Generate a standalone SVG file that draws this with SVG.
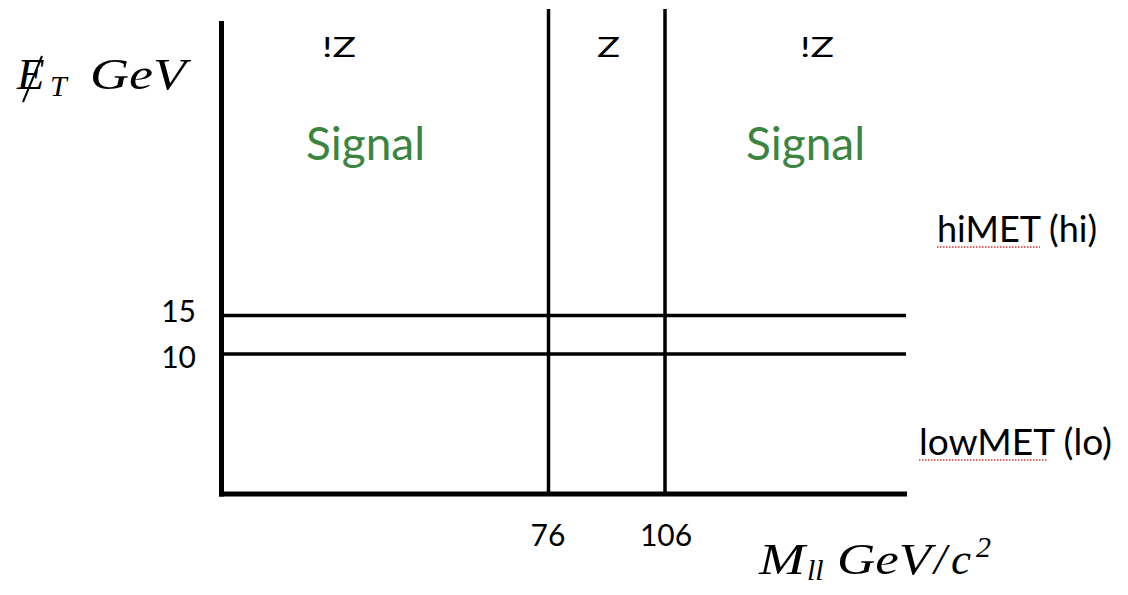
<svg xmlns="http://www.w3.org/2000/svg" width="1128" height="595" viewBox="0 0 1128 595">
<style>
.ax{stroke:#000;stroke-width:5;fill:none;stroke-linecap:butt}
.ln{stroke:#000;stroke-width:3.5;fill:none}
.lab{font-family:Lato,"Open Sans",sans-serif;fill:#000}
.z{font-size:26px}
.met{font-size:36px}
.num{font-size:30px}
.sig{font-family:Lato,"Open Sans",sans-serif;fill:#3b8540;font-size:46px;text-anchor:middle}
.m{font-family:"Liberation Serif",serif;font-style:italic;fill:#000}
.big{font-size:45px}
.sub{font-size:30px}
.sp{stroke:#e03030;stroke-width:1.5;stroke-dasharray:1.5 1.5;fill:none}
</style>
<rect width="1128" height="595" fill="#fff"/>
<g id="grid">
<line class="ln" x1="548.5" y1="9" x2="548.5" y2="494"/>
<line class="ln" x1="665" y1="9" x2="665" y2="494"/>
<line class="ln" x1="222" y1="315.5" x2="906" y2="315.5"/>
<line class="ln" x1="222" y1="354" x2="906" y2="354"/>
</g>
<g id="axes">
<line class="ax" x1="221.5" y1="21" x2="221.5" y2="496.5"/>
<line class="ax" x1="219" y1="494" x2="907" y2="494"/>
</g>
<g id="region-labels">
<text class="lab z" x="322" y="57" textLength="34" lengthAdjust="spacingAndGlyphs">!Z</text>
<text class="lab z" x="597" y="57" textLength="23" lengthAdjust="spacingAndGlyphs">Z</text>
<text class="lab z" x="800" y="57" textLength="34" lengthAdjust="spacingAndGlyphs">!Z</text>
<text class="sig" x="365.5" y="160">Signal</text>
<text class="sig" x="805.5" y="160">Signal</text>
</g>
<g id="met-labels">
<text class="lab met" x="937" y="242">hiMET (hi)</text>
<text class="lab met" x="919" y="455" textLength="193" lengthAdjust="spacingAndGlyphs">lowMET (lo)</text>
<line class="sp" x1="937" y1="247" x2="1040" y2="247"/>
<line class="sp" x1="919" y1="460" x2="1047" y2="460"/>
</g>
<g id="ticks">
<text class="lab num" x="196" y="322" text-anchor="end">15</text>
<text class="lab num" x="196" y="368" text-anchor="end">10</text>
<text class="lab num" x="548" y="546" text-anchor="middle">76</text>
<text class="lab num" x="666" y="546" text-anchor="middle">106</text>
</g>
<g id="y-title">
<text class="m big" x="17" y="89">E</text>
<line x1="23" y1="102" x2="42" y2="56" stroke="#000" stroke-width="2"/>
<text class="m sub" x="50" y="96">T</text>
<text class="m big" x="90" y="89" textLength="96" lengthAdjust="spacingAndGlyphs">GeV</text>
</g>
<g id="x-title">
<text class="m big" x="759" y="574" textLength="46" lengthAdjust="spacingAndGlyphs">M</text>
<text class="m sub" x="807" y="580">ll</text>
<text class="m big" x="837" y="574" textLength="94" lengthAdjust="spacingAndGlyphs">GeV</text>
<text class="m big" x="934" y="574">/</text>
<text class="m big" x="951" y="574">c</text>
<text class="m sub" x="976" y="557" font-style="normal">2</text>
</g>
</svg>
